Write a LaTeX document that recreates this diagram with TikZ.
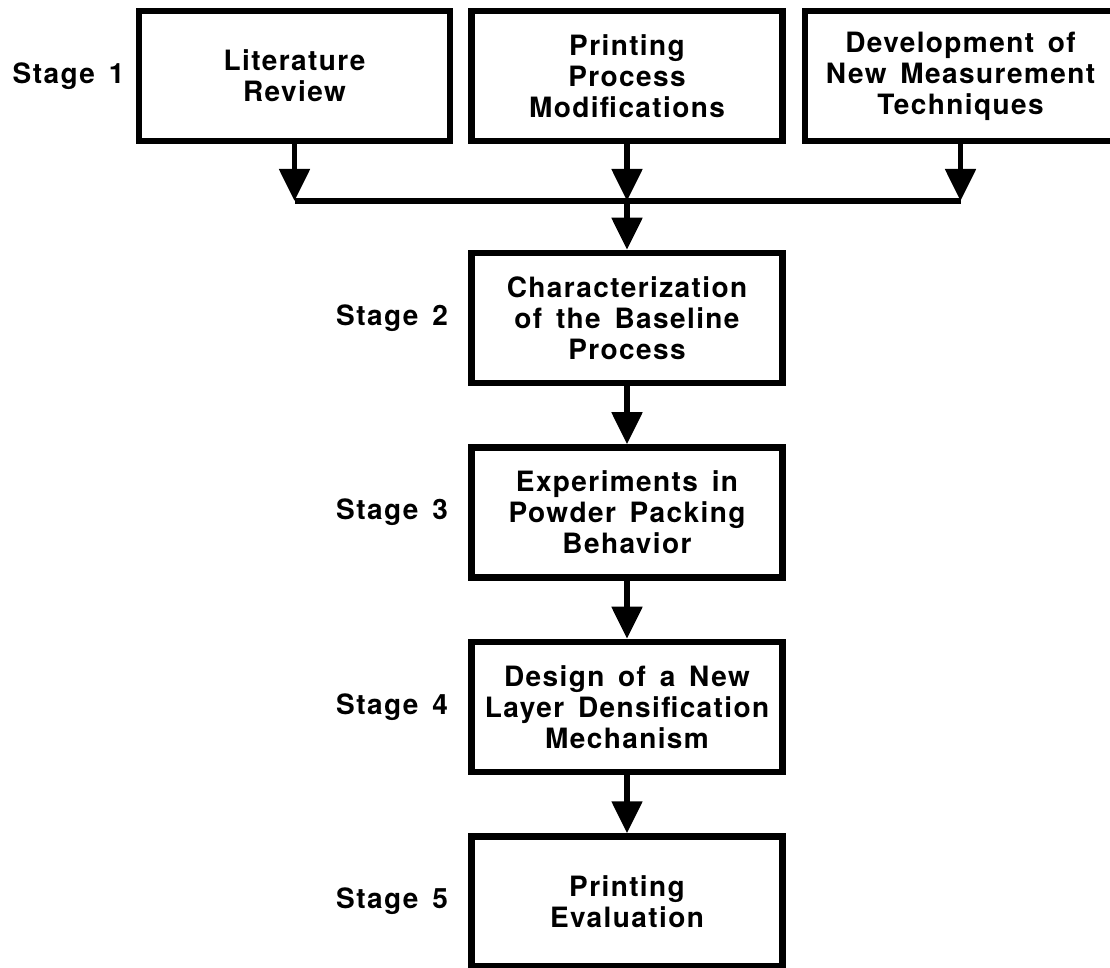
\documentclass[tikz,border=0pt]{standalone}
\usepackage{fontspec}
\setmainfont{TeX Gyre Heros}[LetterSpace=5, WordSpace=1.5]
\usetikzlibrary{positioning, arrows.meta}

\begin{document}
\begin{tikzpicture}[x=0.5pt, y=-0.5pt]
\tikzset{
    every node/.style={align=center, font=\fontsize{14pt}{15.5pt}\selectfont\bfseries},
    stagebox/.style={draw, line width=3.25pt, minimum width=155.5pt, minimum height=65pt, inner sep=2pt},
    stagelbl/.style={inner sep=0pt},
    link/.style={line width=2.6pt},
    arr/.style={link, -{Triangle[width=15pt, length=16pt]}}
}
\clip (0,0) rectangle (1110,968);

% stage 1
\node[stagebox] (mod) at (627,76) {Printing\\Process\\Modifications};
\node[stagebox, left=7.5pt of mod] (lit) {Literature\\Review};
\node[stagebox, right=8pt of mod] (meas) {Development of\\New Measurement\\Techniques};
\coordinate (jn) at (627,201);

% stages 2 to 5
\node[stagebox] (base) at (627,318) {Characterization\\of the Baseline\\Process};
\node[stagebox, below=29pt of base] (pack) {Experiments in\\Powder Packing\\Behavior};
\node[stagebox, below=29pt of pack] (dens) {Design of a New\\Layer Densification\\Mechanism};
\node[stagebox, below=29pt of dens] (eval) {Printing\\Evaluation};

\node[stagelbl, left=5.5pt of lit] (s1) {Stage 1};
\node[stagelbl, left=10pt of base] (s2) {Stage 2};
\node[stagelbl, left=10pt of pack] (s3) {Stage 3};
\node[stagelbl, left=10pt of dens] (s4) {Stage 4};
\node[stagelbl, left=10pt of eval] (s5) {Stage 5};

\draw[arr] (lit) -- (lit |- jn);
\draw[arr] (mod) -- (jn);
\draw[arr] (meas) -- (meas |- jn);
\draw[link] (lit |- jn) -- (meas |- jn);
\draw[arr] (jn) -- (base);
\draw[arr] (base) -- (pack);
\draw[arr] (pack) -- (dens);
\draw[arr] (dens) -- (eval);
\end{tikzpicture}
\end{document}
